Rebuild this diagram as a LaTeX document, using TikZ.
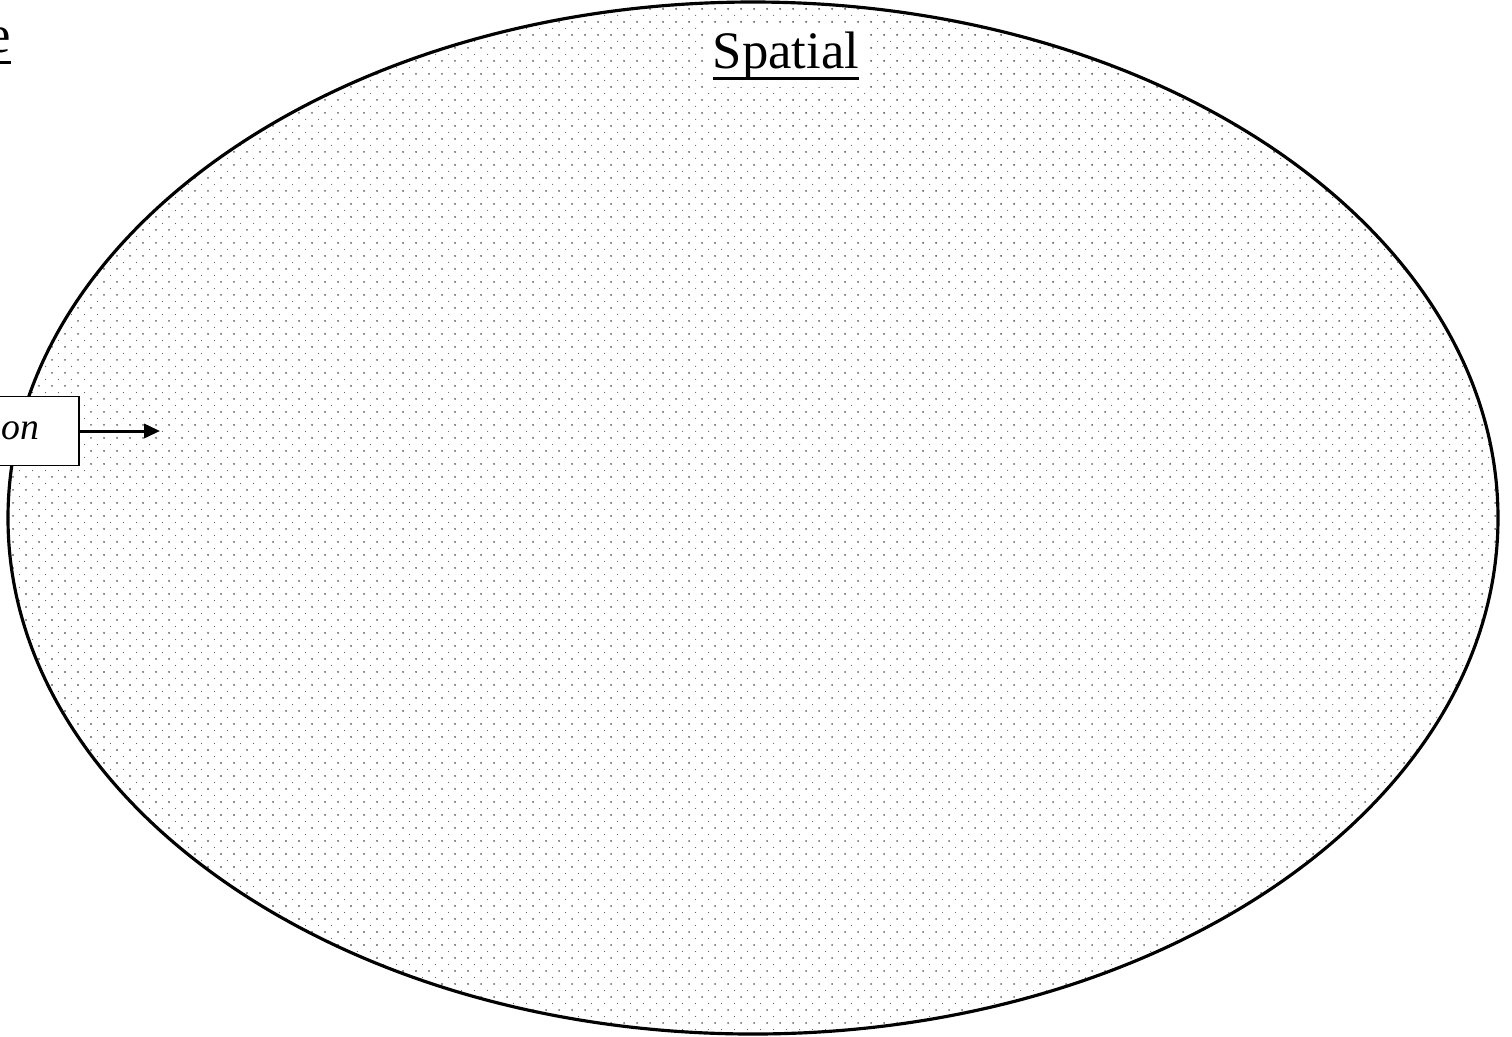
\documentclass[tikz,border=0pt]{standalone}
\usepackage{fontspec}
\setmainfont{Liberation Serif}
\usetikzlibrary{arrows.meta,patterns.meta}

% heavy underline for the headings
\newcommand{\headul}[1]{\setbox0\hbox{#1}\leavevmode\rlap{\copy0}\vrule width\wd0 height -5.4pt depth 6.8pt\relax}

% dotted fill of the spatial region
\tikzdeclarepattern{
  name=spatialdots,
  type=uncolored,
  bottom left={(-1pt,-1pt)},
  top right={(8.4pt,8.4pt)},
  tile size={(7.4pt,7.4pt)},
  code={
    \fill (0pt,0pt) circle (0.6pt);
    \fill (3.7pt,3.7pt) circle (0.35pt);
  }
}

\begin{document}
\begin{tikzpicture}[
    x=0.02cm, y=-0.02cm,
    >={Triangle[length=9pt,width=8pt]},
    every node/.style={font=\fontsize{30}{36}\selectfont},
    region/.style={draw, line width=1.8pt, pattern=spatialdots, pattern color=black!60},
    heading/.style={fill=white, inner sep=4pt},
    sidebox/.style={draw, fill=white, line width=1.1pt, anchor=east, text width=4cm, align=right,
                    inner xsep=0.8cm, minimum height=1.38cm, font=\fontsize{21.5}{25}\selectfont\itshape},
]
  \useasboundingbox (0,0) rectangle (1512,1036);

  % spatial region
  \draw[region] (753,518) ellipse (745 and 516);
  \node[heading, anchor=base] (spatial) at (786,68) {\headul{Spatial}};

  % cut-off heading on the left
  \node[anchor=base east, inner sep=0pt] (lefthead) at (11,52) {\headul{e}};

  % input box and arrow
  \node[sidebox] (sidein) at (80,431) {on};
  \coordinate (sidetip) at (160,431);
  \draw[->, line width=1.7pt] (sidein) -- (sidetip);
\end{tikzpicture}
\end{document}
